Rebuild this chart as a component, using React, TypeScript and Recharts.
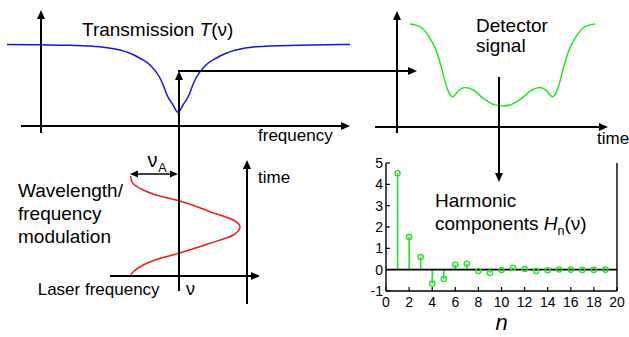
import { LineChart, ComposedChart, Line, Bar, XAxis, YAxis, ReferenceLine } from "recharts"

const FONT = '"Liberation Sans", Arial, Helvetica, sans-serif'
const BLUE = "#1414e6"
const GREEN = "#22e622"
const RED = "#ee1c1c"
const W = 629
const H = 337

// Transmission T(nu) — detuning in arbitrary units, 0 = line centre
const transNu = [-17.1, -13.7, -10.8, -7.8, -5.8, -4.8, -3.8, -2.8, -1.8, -1.4, -1.1, -0.5, 0, 0.5, 1.1, 1.4, 1.8, 2.8, 3.8, 4.8, 5.8, 7.8, 12.2, 17.2]
const transT = [0.995, 0.99, 0.984, 0.965, 0.927, 0.887, 0.826, 0.744, 0.585, 0.476, 0.378, 0.256, 0.167, 0.256, 0.378, 0.476, 0.585, 0.744, 0.826, 0.887, 0.927, 0.965, 0.984, 0.995]

// Detector signal vs time (one modulation period)
const detTime = [0, 0.054, 0.108, 0.144, 0.171, 0.198, 0.214, 0.231, 0.261, 0.297, 0.342, 0.396, 0.45, 0.5, 0.55, 0.604, 0.658, 0.703, 0.739, 0.769, 0.786, 0.802, 0.829, 0.856, 0.892, 0.946, 1]
const detSignal = [1, 0.974, 0.861, 0.731, 0.57, 0.391, 0.32, 0.294, 0.35, 0.383, 0.359, 0.279, 0.22, 0.204, 0.22, 0.279, 0.359, 0.383, 0.35, 0.294, 0.32, 0.391, 0.57, 0.731, 0.861, 0.974, 1]

// Laser frequency modulation (frequency vs time)
const modTime = [0, 0.02, 0.043, 0.11, 0.16, 0.227, 0.327, 0.41, 0.493, 0.56, 0.643, 0.753, 0.81, 0.86, 0.943, 0.975, 1]
const modNu = [-4.73, -4.67, -4.47, -3.47, -2.3, 0.1, 3.2, 5.53, 6.2, 5.53, 3.2, 0.1, -2.2, -3.47, -4.63, -4.7, -4.73]

// Harmonic components H_n
const harmN = [1, 2, 3, 4, 5, 6, 7, 8, 9, 10, 11, 12, 13, 14, 15, 16, 17, 18, 19]
const harmH = [4.52, 1.53, 0.59, -0.65, -0.44, 0.23, 0.28, -0.06, -0.15, -0.02, 0.09, 0.03, -0.06, -0.03, 0.01, 0, -0.01, -0.01, 0]
const harmXTicks = [0, 2, 4, 6, 8, 10, 12, 14, 16, 18, 20]
const harmYTicks = [-1, 0, 1, 2, 3, 4, 5]

const NU_DOMAIN = [-17.1, 17.2]

const transData = transNu.map((nu, i) => ({ nu, T: transT[i] }))
const detData = detTime.map((t, i) => ({ t, s: detSignal[i] }))
const modData = modTime.map((t, i) => ({ t, nu: modNu[i] }))
const harmData = harmN.map((n, i) => ({ n, h: harmH[i] }))

function XTick({ x, y, payload }: any) {
  return (
    <g>
      <line x1={x} y1={y} x2={x} y2={y - 4} stroke="#000" strokeWidth={1.2} />
      <text x={x} y={y + 16} textAnchor="middle" fontSize={14} fontFamily={FONT} fill="#000">{payload.value}</text>
    </g>
  )
}

function YTickLeft({ x, y, payload }: any) {
  return (
    <g>
      <line x1={x} y1={y} x2={x + 4} y2={y} stroke="#000" strokeWidth={1.2} />
      <text x={x - 3} y={y + 5} textAnchor="end" fontSize={14} fontFamily={FONT} fill="#000">{payload.value}</text>
    </g>
  )
}

function YTickRight({ x, y }: any) {
  return <line x1={x} y1={y} x2={x - 4} y2={y} stroke="#000" strokeWidth={1.2} />
}

function Arrow({ x1, y1, x2, y2, w = 2, head = 9, hw = 4, both = false }: any) {
  const a = Math.atan2(y2 - y1, x2 - x1)
  const c = Math.cos(a)
  const s = Math.sin(a)
  const tri = (tx: number, ty: number, dc: number, ds: number) => {
    const bx = tx - head * dc
    const by = ty - head * ds
    return `${tx},${ty} ${bx - hw * ds},${by + hw * dc} ${bx + hw * ds},${by - hw * dc}`
  }
  const sx = both ? x1 + head * c * 0.8 : x1
  const sy = both ? y1 + head * s * 0.8 : y1
  return (
    <g>
      <line x1={sx} y1={sy} x2={x2 - head * c * 0.8} y2={y2 - head * s * 0.8} stroke="#000" strokeWidth={w} />
      <polygon points={tri(x2, y2, c, s)} fill="#000" />
      {both && <polygon points={tri(x1, y1, -c, -s)} fill="#000" />}
    </g>
  )
}

const layer: React.CSSProperties = { position: "absolute", left: 0, top: 0 }

export default function App() {
  return (
    <div style={{ position: "absolute", left: 0, top: 0, width: W, height: H, background: "#fff", overflow: "hidden" }}>
      {/* Transmission curve */}
      <div style={layer}>
        <LineChart width={W} height={H} data={transData} margin={{ top: 44, right: 279, bottom: 211, left: 7 }}>
          <XAxis type="number" dataKey="nu" domain={NU_DOMAIN} hide />
          <YAxis type="number" domain={[0, 1]} hide />
          <Line dataKey="T" type="monotone" stroke={BLUE} strokeWidth={1.5} dot={false} isAnimationActive={false} />
        </LineChart>
      </div>

      {/* Detector signal */}
      <div style={layer}>
        <LineChart width={W} height={H} data={detData} margin={{ top: 24, right: 34, bottom: 210, left: 410 }}>
          <XAxis type="number" dataKey="t" domain={[0, 1]} hide />
          <YAxis type="number" domain={[0, 1]} hide />
          <Line dataKey="s" type="monotone" stroke={GREEN} strokeWidth={1.5} dot={false} isAnimationActive={false} />
        </LineChart>
      </div>

      {/* Frequency modulation */}
      <div style={layer}>
        <LineChart layout="vertical" width={W} height={H} data={modData} margin={{ top: 176, right: 279, bottom: 61, left: 7 }}>
          <XAxis type="number" dataKey="nu" domain={NU_DOMAIN} hide />
          <YAxis type="number" dataKey="t" domain={[0, 1]} reversed hide />
          <Line dataKey="nu" type="monotone" stroke={RED} strokeWidth={1.5} dot={false} isAnimationActive={false} />
        </LineChart>
      </div>

      {/* Harmonic components */}
      <div style={layer}>
        <ComposedChart width={W} height={H} data={harmData} margin={{ top: 163, right: 11, bottom: 45, left: 385 }}>
          <XAxis type="number" dataKey="n" domain={[0, 20]} ticks={harmXTicks} interval={0} height={1}
            tickSize={0} tickMargin={0} tickLine={false} tick={<XTick />} axisLine={{ stroke: "#000", strokeWidth: 1.4 }} />
          <YAxis type="number" domain={[-1, 5]} ticks={harmYTicks} interval={0} width={1}
            tickSize={0} tickMargin={0} tickLine={false} tick={<YTickLeft />} axisLine={{ stroke: "#000", strokeWidth: 1.4 }} />
          <YAxis yAxisId="r" orientation="right" type="number" domain={[-1, 5]} ticks={harmYTicks} interval={0} width={1}
            tickSize={0} tickMargin={0} tickLine={false} tick={<YTickRight />} axisLine={{ stroke: "#000", strokeWidth: 1.4 }} />
          <ReferenceLine y={0} stroke="#000" strokeWidth={1.6} />
          <Bar dataKey="h" barSize={1.6} fill={GREEN} isAnimationActive={false} />
          <Line dataKey="h" stroke="none" isAnimationActive={false}
            dot={{ r: 2.6, stroke: GREEN, strokeWidth: 1.4, fill: "none" }} />
        </ComposedChart>
      </div>

      {/* Axes, arrows and labels */}
      <svg width={W} height={H} style={{ ...layer, pointerEvents: "none" }} fontFamily={FONT} fill="#000">
        <Arrow x1={41} y1={133} x2={41} y2={10} />
        <Arrow x1={21} y1={126} x2={350} y2={126} />
        <Arrow x1={179} y1={291} x2={179} y2={71} />
        <Arrow x1={178} y1={71} x2={417} y2={71} />
        <Arrow x1={397} y1={133} x2={397} y2={11} />
        <Arrow x1={375} y1={127} x2={608} y2={127} />
        <Arrow x1={499} y1={77} x2={499} y2={182} />
        <Arrow x1={110} y1={276} x2={260} y2={276} />
        <Arrow x1={247} y1={304} x2={247} y2={160} />
        <Arrow x1={130} y1={174} x2={178} y2={174} w={1.6} head={8} hw={3.5} both />

        <text x={82} y={36} fontSize={19}>Transmission <tspan fontStyle="italic">T</tspan>(ν)</text>
        <text x={258} y={141} fontSize={17}>frequency</text>
        <text x={476} y={31.5} fontSize={19}>Detector</text>
        <text x={476} y={52} fontSize={19}>signal</text>
        <text x={597} y={144} fontSize={17}>time</text>

        <text x={147.5} y={166.5} fontSize={20}>ν</text>
        <text x={158.3} y={172} fontSize={12.5}>A</text>
        <text x={258} y={183} fontSize={17}>time</text>
        <text x={18} y={196.5} fontSize={19}>Wavelength/</text>
        <text x={18} y={220} fontSize={19}>frequency</text>
        <text x={18} y={243.3} fontSize={19}>modulation</text>
        <text x={37.7} y={294.5} fontSize={17}>Laser frequency</text>
        <text x={186} y={294.5} fontSize={18}>ν</text>

        <text x={435} y={206.5} fontSize={19}>Harmonic</text>
        <text x={435} y={230} fontSize={19}>components <tspan fontStyle="italic">H</tspan><tspan fontSize={12.5} dy={5}>n</tspan><tspan dy={-5}>(ν)</tspan></text>
        <text x={501.5} y={330} fontSize={22} fontStyle="italic" textAnchor="middle">n</text>
      </svg>
    </div>
  )
}
